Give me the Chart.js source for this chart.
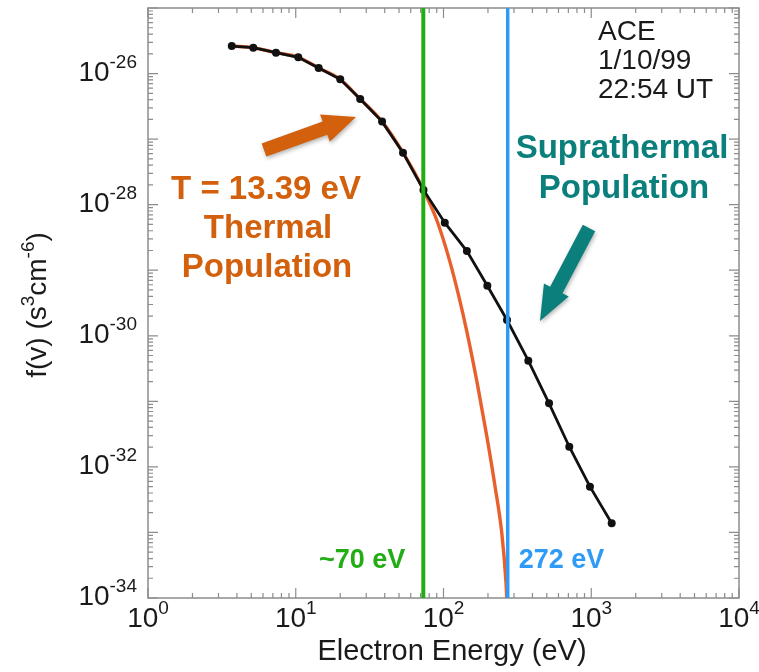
<!DOCTYPE html>
<html>
<head>
<meta charset="utf-8">
<script src="https://cdn.jsdelivr.net/npm/chart.js@4"></script>
<style>
  body { margin: 0; background: #fff; }
  canvas { display: block; }
</style>
</head>
<body>
<canvas id="myChart" width="759" height="672"></canvas>
<script>
// measured points (black)
const energy = [3.69, 5.16, 7.35, 10.4, 14.3, 20.0, 27.3, 38.4, 53.2, 73.2, 102, 144, 198, 269, 375, 518, 710, 980, 1375];
const fvMeasured = [2.63e-26, 2.48e-26, 2.08e-26, 1.77e-26, 1.22e-26, 8.17e-27, 4.09e-27, 1.85e-27, 6.21e-28, 1.68e-28,
  5.31e-29, 1.96e-29, 5.81e-30, 1.74e-30, 4.17e-31, 9.33e-32, 2.03e-32, 4.99e-33, 1.38e-33];

// thermal fit (orange)
const fitEnergy = [3.69, 5.16, 7.35, 10.4, 14.3, 20.0, 27.3, 38.4, 53.2, 73.2, 90, 110.7, 127, 144, 169, 197, 223, 248, 265, 268];
const fvThermal = [2.63e-26, 2.48e-26, 2.08e-26, 1.77e-26, 1.22e-26, 8.17e-27, 4.09e-27, 1.85e-27, 6.21e-28, 1.68e-28,
  5.83e-29, 1.33e-29, 3.98e-30, 1.15e-30, 1.91e-31, 2.82e-32, 5.13e-33, 9.8e-34, 1.69e-34, 1e-34];

const xTickExps = [0, 1, 2, 3, 4];
const yTickExps = [-34, -32, -30, -28, -26];
const thermalCut = 73;   // ~70 eV
const supraCut = 272;

const FONT = '"Liberation Sans", Arial, Helvetica, sans-serif';

function pts(xs, ys) {
  return xs.map((x, i) => ({ x: x, y: ys[i] }));
}

function drawArrow(ctx, x0, y0, x1, y1, shaftW, headW, headL, color) {
  const dx = x1 - x0, dy = y1 - y0;
  const len = Math.sqrt(dx * dx + dy * dy);
  const ux = dx / len, uy = dy / len;
  const nx = -uy, ny = ux;
  const bx = x1 - ux * headL, by = y1 - uy * headL;
  ctx.save();
  ctx.shadowColor = 'rgba(0,0,0,0.3)';
  ctx.shadowBlur = 4;
  ctx.shadowOffsetX = 1;
  ctx.shadowOffsetY = 2;
  ctx.fillStyle = color;
  ctx.beginPath();
  ctx.moveTo(x0 + nx * shaftW / 2, y0 + ny * shaftW / 2);
  ctx.lineTo(bx + nx * shaftW / 2, by + ny * shaftW / 2);
  ctx.lineTo(bx + nx * headW / 2, by + ny * headW / 2);
  ctx.lineTo(x1, y1);
  ctx.lineTo(bx - nx * headW / 2, by - ny * headW / 2);
  ctx.lineTo(bx - nx * shaftW / 2, by - ny * shaftW / 2);
  ctx.lineTo(x0 - nx * shaftW / 2, y0 - ny * shaftW / 2);
  ctx.closePath();
  ctx.fill();
  ctx.restore();
}

// "10" with superscript exponent
function powWidth(ctx, e) {
  ctx.font = '28px ' + FONT;
  const a = ctx.measureText('10').width;
  ctx.font = '19px ' + FONT;
  return a + ctx.measureText(String(e)).width;
}
function drawPow(ctx, e, left, base) {
  ctx.textAlign = 'left';
  ctx.textBaseline = 'alphabetic';
  ctx.font = '28px ' + FONT;
  ctx.fillText('10', left, base);
  const w = ctx.measureText('10').width;
  ctx.font = '19px ' + FONT;
  ctx.fillText(String(e), left + w, base - 13);
}

const axesPlugin = {
  id: 'axesBox',
  beforeDatasetsDraw(chart) {
    const { ctx, chartArea: a, scales } = chart;
    const xs = scales.x, ys = scales.y;
    ctx.save();
    ctx.strokeStyle = '#8c8c8c';
    ctx.lineWidth = 1.5;
    ctx.strokeRect(a.left, a.top, a.right - a.left, a.bottom - a.top);
    ctx.lineWidth = 1.2;
    ctx.beginPath();
    for (let d = 0; d <= 4; d++) {
      for (let m = 1; m <= 9; m++) {
        if (d === 4 && m > 1) break;
        const px = xs.getPixelForValue(m * Math.pow(10, d));
        const L = m === 1 ? 10 : 5;
        ctx.moveTo(px, a.bottom); ctx.lineTo(px, a.bottom - L);
        ctx.moveTo(px, a.top); ctx.lineTo(px, a.top + L);
      }
    }
    for (let d = -34; d <= -25; d++) {
      for (let m = 1; m <= 9; m++) {
        if (d === -25 && m > 1) break;
        const py = ys.getPixelForValue(m * Math.pow(10, d));
        const L = m === 1 ? 10 : 5;
        ctx.moveTo(a.left, py); ctx.lineTo(a.left + L, py);
        ctx.moveTo(a.right, py); ctx.lineTo(a.right - L, py);
      }
    }
    ctx.stroke();

    // tick labels
    ctx.fillStyle = '#1a1a1a';
    xTickExps.forEach(e => {
      const px = xs.getPixelForValue(Math.pow(10, e));
      const w = powWidth(ctx, e);
      drawPow(ctx, e, px - w / 2, a.bottom + 29);
    });
    yTickExps.forEach(e => {
      const py = ys.getPixelForValue(Math.pow(10, e));
      const w = powWidth(ctx, e);
      drawPow(ctx, e, a.left - 11 - w, py + 7);
    });

    // axis titles
    ctx.font = '29px ' + FONT;
    ctx.textAlign = 'center';
    ctx.fillText('Electron Energy (eV)', 452, 660);

    ctx.save();
    ctx.translate(46, 305);
    ctx.rotate(-Math.PI / 2);
    const parts = [['f(v) (s', 0], ['3', 1], ['cm', 0], ['-6', 1], [')', 0]];
    let total = 0;
    parts.forEach(p => {
      ctx.font = (p[1] ? '19px ' : '28px ') + FONT;
      total += ctx.measureText(p[0]).width;
    });
    let cx = -total / 2;
    ctx.textAlign = 'left';
    parts.forEach(p => {
      ctx.font = (p[1] ? '19px ' : '28px ') + FONT;
      ctx.fillText(p[0], cx, p[1] ? -12 : 0);
      cx += ctx.measureText(p[0]).width;
    });
    ctx.restore();
    ctx.restore();
  },
  afterDatasetsDraw(chart) {
    const { ctx, chartArea: a, scales } = chart;
    const gx = scales.x.getPixelForValue(thermalCut);
    const bx = scales.x.getPixelForValue(supraCut);
    ctx.save();
    ctx.lineWidth = 4;
    ctx.strokeStyle = '#22ad14';
    ctx.beginPath(); ctx.moveTo(gx, a.top); ctx.lineTo(gx, a.bottom); ctx.stroke();
    ctx.lineWidth = 3.5;
    ctx.strokeStyle = '#2f9bf6';
    ctx.beginPath(); ctx.moveTo(bx, a.top); ctx.lineTo(bx, a.bottom); ctx.stroke();

    // cut labels
    ctx.font = 'bold 27px ' + FONT;
    ctx.textBaseline = 'alphabetic';
    ctx.fillStyle = '#22ad14';
    ctx.textAlign = 'right';
    ctx.fillText('~70 eV', gx - 18, 568);
    ctx.fillStyle = '#2f9bf6';
    ctx.textAlign = 'left';
    ctx.fillText('272 eV', bx + 11, 568);

    // event info
    ctx.fillStyle = '#1a1a1a';
    ctx.font = '28px ' + FONT;
    ctx.fillText('ACE', 598, 40);
    ctx.fillText('1/10/99', 598, 69);
    ctx.fillText('22:54 UT', 598, 98);

    // population labels
    ctx.font = 'bold 33px ' + FONT;
    ctx.textAlign = 'center';
    ctx.fillStyle = '#d2600c';
    ctx.fillText('T = 13.39 eV', 266, 199);
    ctx.fillText('Thermal', 268, 238);
    ctx.fillText('Population', 267, 277);
    ctx.fillStyle = '#0b7f7b';
    ctx.fillText('Suprathermal', 622, 158);
    ctx.fillText('Population', 624, 198);

    drawArrow(ctx, 264, 150, 356, 117, 14, 29, 33, '#d2600c');
    drawArrow(ctx, 589, 228, 540, 321, 14, 28, 35, '#0b7f7b');
    ctx.restore();
  }
};

let ctx = document.getElementById('myChart').getContext('2d');
let myChart = new Chart(ctx, {
  type: 'line',
  data: {
    datasets: [
      {
        label: 'Measured',
        data: pts(energy, fvMeasured),
        borderColor: '#111',
        backgroundColor: '#111',
        borderWidth: 2.8,
        pointRadius: 4,
        pointBorderWidth: 0,
        tension: 0,
        order: 1
      },
      {
        label: 'Thermal fit',
        data: pts(fitEnergy, fvThermal),
        borderColor: '#e8602c',
        borderWidth: 3.4,
        pointRadius: 0,
        cubicInterpolationMode: 'monotone',
        order: 2
      }
    ]
  },
  options: {
    responsive: false,
    animation: false,
    layout: { padding: { left: 148, right: 20, top: 8, bottom: 74 } },
    plugins: { legend: { display: false }, tooltip: { enabled: false } },
    scales: {
      x: { type: 'logarithmic', min: 1, max: 10000, display: false },
      y: { type: 'logarithmic', min: 1e-34, max: 1e-25, display: false }
    }
  },
  plugins: [axesPlugin]
});
</script>
</body>
</html>
